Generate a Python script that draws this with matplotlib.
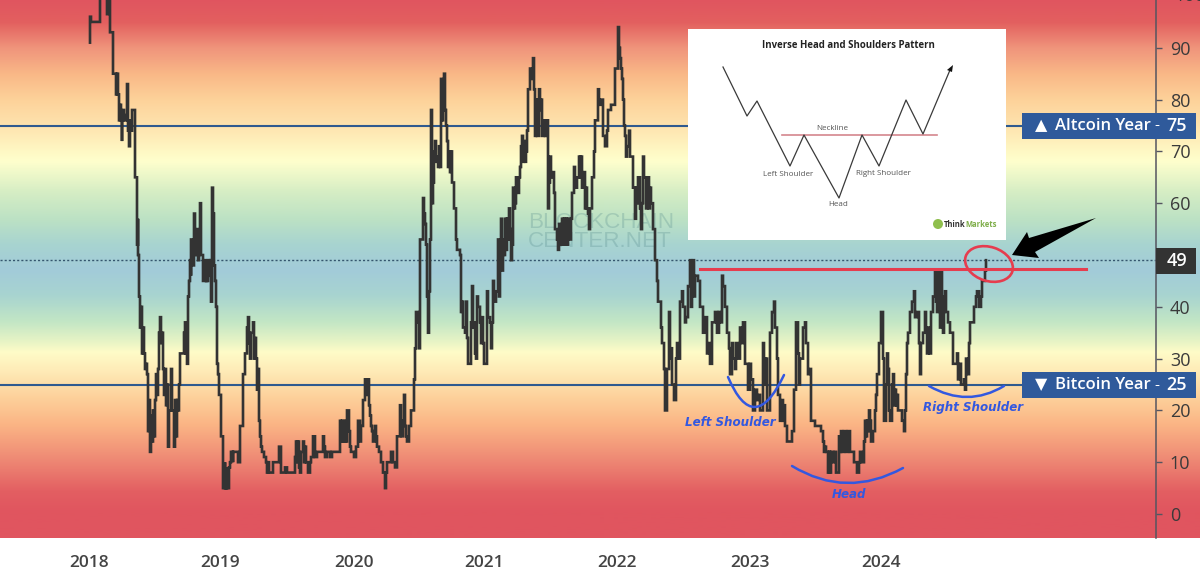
import numpy as np
import matplotlib
matplotlib.use("Agg")
import matplotlib.pyplot as plt
from matplotlib.colors import LinearSegmentedColormap
from matplotlib.patches import Ellipse, PathPatch, Polygon, Rectangle, Circle
from matplotlib.path import Path

plt.rcParams['font.family'] = ['Open Sans', 'DejaVu Sans']

# x is the bar number counted from January 2018, y the altcoin season index
trace_2018 = [(1,91),(1,96),(2,95),(11,95),(11,104),(17,104),(18,100),(18,96.5),(19,100),(20,100),(21,93),(22,93),(24,92),(24,85),
              (26,85),(27,81),(28,85),(29,81),(30,80),(30,76),(31,79),(32,76),(33,72),(33,76),(34,78),(35,77),(36,76),(37,76),
              (38,83),(39,74),(40,71),(41,76),(42,74),(43,78),(44,78),(46,65),(48,58),(48,52),(49,57),(49,50),(50,49),(50,42),
              (51,36),(52,40),(53,31),(54,36),(55,31),(56,28),(57,29),(58,27),(59,16),(60,22),(61,12),(62,19),(63,14),(64,20),
              (65,15),(66,22),(67,27),(68,23),(69,28),(70,35),(71,38),(72,33),(73,35),(74,28),(75,23),(76,28),(77,21),(78,25),
              (79,13),(80,20),(82,28),(83,20),(85,13),(86,22),(87,15),(88,22),(89,20),(90,25),(91,31),(93,31),(95,35),(96,37),
              (97,31),(98,29),(99,42),(100,45),(101,49),(102,46),(102,53),(103,48),(105,58),(106,50),(107,55),(109,49),(110,54),
              (111,60),(112,50),(114,49),(114,45),(116,49),(117,45),(118,49),(118,45),(119,49),(120,46),(121,49),(122,41),(123,63),
              (124,58),(125,48),(126,45),(127,40),(128,29)]
trace_2019 = [(129,27),(130,23),(132,15),(134,10),(134,5),(136,10),(136,5),(138,9),(138,5),(140,9),(141,10),(142,12),(144,10),
              (144,12),(148,12),(149,10),(151,17),(154,27),(156,31),(158,36),(159,38),(160,33),(161,30),(162,35),(164,37),(165,30),
              (166,34),(167,30),(168,24),(169,28),(170,18),(171,15),(172,13),(173,12),(175,11),(177,10),(178,8),(179,10),(180,8),
              (182,8),(184,10),(189,10),(190,13),(191,13),(192,8),(195,8),(196,9),(197,9),(198,8),(204,8),(206,11),(207,14),
              (208,10),(209,14),(210,9),(211,8),(212,12),(214,14),(215,10),(216,13),(217,10),(219,8),(220,8),(221,10),(222,11),
              (224,15),(226,11),(228,12),(233,12),(234,15),(235,13),(236,11),(238,12),(241,11),(243,12),(248,12),(250,12),(251,18),
              (252,14),(253,18),(254,14),(256,18),(257,14),(258,20),(260,16),(261,13),(262,12),(265,11),(267,13),(269,18),(271,14),
              (272,17),(274,22),(276,26),(278,23),(279,26),(280,21),(281,19),(282,17),(283,16),(284,14),(286,17),(287,15),(288,13),
              (290,12),(292,10),(294,8),(296,5),(297,8),(298,10),(300,10),(302,12),(304,10),(306,9),(308,15),(310,15),(311,21),
              (312,17),(313,15),(314,18),(315,23),(316,17),(317,15),(318,14),(320,17),(322,20),(325,26),(326,32),(327,39)]
trace_2021 = [(329,37),(330,32),(331,53),(334,61),(335,58),(336,56),(337,52),(338,42),(339,35),(340,43),(341,53),(342,78),(343,60),
              (344,64),(345,70),(346,72),(347,68),(348,69),(349,67),(350,71),(351,67),(352,84),(353,76),(354,78),(355,85),(356,78),
              (357,75),(358,72),(359,67),(360,70),(361,66),(362,70),(363,64),(365,59),(367,53),(368,51),(370,51),(371,50),(372,39),
              (373,41),(374,36),(376,35),(377,41),(378,34),(379,29),(381,29),(382,37),(383,44),(384,36),(385,37),(386,31),(387,30),
              (388,42),(389,40),(391,37),(392,33),(393,38),(394,33),(395,29),(396,29),(398,43),(399,38),(401,37),(402,32),(403,37),
              (404,45),(405,41),(407,43),(409,53),(410,42),(411,52),(412,57),(413,47),(414,53),(415,50),(416,57),(417,51),(418,57),
              (419,53),(420,59),(421,55),(422,49),(423,52),(424,63),(425,59),(426,60),(427,65),(428,62),(430,65),(431,67),(432,71),
              (433,73),(434,68),(435,72),(436,68),(437,70),(438,74),(439,82),(441,86),(442,84),(444,88),(445,82),(446,73),(447,80),
              (448,73),(450,82),(451,78),(452,80),(453,73),(455,76),(456,73),(457,76),(459,59),(460,64),(461,69),(462,65),(463,66),
              (465,62),(466,55),(468,53),(469,51),(470,56),(471,52),(473,57),(474,52),(475,57),(476,52),(477,57),(478,52),(479,57),
              (481,53),(482,57),(483,62),(485,67),(486,65),(487,63),(488,65),(490,69),(491,65),(492,69),(493,63),(494,66),(496,59),
              (497,63),(498,59),(499,58),(500,55),(501,59),(503,65),(505,70),(506,76),(509,82),(510,79),(512,80),(514,73),(516,71),
              (518,74),(519,78),(521,78),(522,79),(526,86),(529,94),(530,90),(531,88),(532,86),(533,84),(534,80),(535,75),(536,73),
              (537,69),(538,71),(540,74),(541,74),(541,69),(542,69),(544,63),(546,57),(547,63),(548,60),(549,65),(551,59),(552,55),
              (553,60),(554,69),(555,65),(557,59),(558,63),(559,65),(560,59),(561,63),(562,60),(564,55),(566,49),(568,45),(569,41)]
trace_2023 = [(572,36),(573,33),(575,28),(576,20),(578,28),(580,39),(581,30),(582,32),(583,25),(585,22),(587,30),(588,33),(589,30),
              (591,41),(593,43),(594,40),(596,37),(597,38),(599,44),(601,49),(602,40),(603,45),(604,49),(605,42),(606,46),(609,45),
              (611,40),(614,35),(616,38),(618,31),(620,33),(621,29),(623,37),(626,39),(628,35),(630,39),(631,37),(633,46),(634,44),
              (636,40),(638,35),(640,32),(641,27),(643,33),(644,30),(646,28),(647,33),(649,30),(651,36),(652,33),(654,37),(656,29),
              (659,24),(661,29),(662,26),(664,20),(666,24),(668,22),(669,23),(671,20),(674,33),(675,30),(676,25),(677,30),(678,20),
              (681,35),(683,39),(685,41),(686,36),(688,30),(689,23),(691,18),(692,22),(694,18),(695,21),(696,17),(698,14),(700,14),
              (703,16),(705,24),(707,37),(709,31),(710,25),(711,30),(713,30),(714,36),(716,37),(717,33),(719,27),(720,28),(722,18),
              (726,17),(729,17),(732,16),(734,14),(735,12),(736,13),(737,12),(739,8),(740,12),(741,8),(742,12),(744,10),(746,12),
              (747,8),(749,8),(750,15),(751,12),(752,16),(753,12),(755,16),(757,12),(759,16),(761,12),(763,12),(765,10),(768,8),
              (770,10),(771,12),(773,10),(775,14),(776,18),(777,15),(778,18),(779,16),(780,20),(781,18),(782,14),(784,16),(786,20)]
trace_2024 = [(787,23),(788,27),(790,33),(792,39),(794,30),(795,18),(797,25),(798,31),(799,28),(800,20),(801,18),(803,25),(804,27),
              (805,21),(806,24),(807,21),(808,23),(809,20),(811,20),(813,18),(815,16),(816,20),(817,27),(818,33),(819,35),(821,39),
              (823,41),(825,43),(826,38),(828,39),(830,33),(831,27),(832,33),(834,35),(836,39),(837,35),(838,31),(839,36),(841,31),
              (842,39),(844,42),(846,47),(847,41),(848,39),(849,47),(851,36),(852,47),(853,42),(854,35),(855,40),(856,43),(857,39),
              (859,37),(861,35),(864,29),(866,29),(868,31),(869,26),(871,29),(872,25),(875,26),(876,24),(877,30),(878,27),(880,33),
              (881,37),(884,37),(885,40),(887,42),(888,43),(890,40),(892,42),(893,45),(895,45),(896,47),(897,49)]

year_bars = [0, 131, 265, 395, 528, 661, 792]
year_labels = ['2018', '2019', '2020', '2021', '2022', '2023', '2024']
value_ticks = [0, 10, 20, 30, 40, 60, 70, 80, 90]
altcoin_level = 75
bitcoin_level = 25
current_level = 49
neckline_level = 47.3
neckline_bars = [611, 997]

# background gradient stops, value -> colour
grad_values = [-5, 0, 4, 10, 17, 22, 27, 31, 33, 37, 42, 47, 52, 57, 62, 68, 70, 75, 80, 85, 90, 95, 99.3]
grad_colors = ['#e0555f', '#e0555f', '#e35f62', '#ee8874', '#fbb585', '#fdd09a', '#fee9b5', '#fffcc8', '#e8f4c5',
               '#c2e6c5', '#a8d4d0', '#a2cbd9', '#a8d4d0', '#bde2c4', '#d5edc4', '#feffcd', '#fff8c4', '#fee3ae',
               '#fdd29a', '#f9b887', '#f0957c', '#e3605f', '#e0555f']

# inset pattern sketch, drawn in picture pixels
pattern_x = [723, 747, 757, 790, 804, 839, 862, 879, 906, 923, 950]
pattern_y = [67, 116, 101, 166, 135, 198, 135, 166, 100, 134, 70]

YMIN, YMAX = -4.63, 99.23
BLUE_TAG = '#2f5a9b'
DARK = '#333333'

fig = plt.figure(figsize=(12, 5.74), dpi=100)

bg = fig.add_axes([0, 36 / 574, 1, 538 / 574], zorder=0)
bg.axis('off')
pos = [(v - grad_values[0]) / (grad_values[-1] - grad_values[0]) for v in grad_values]
cmap = LinearSegmentedColormap.from_list('season', list(zip(pos, grad_colors)), N=512)
bg.imshow(np.linspace(1, 0, 512).reshape(-1, 1), aspect='auto', cmap=cmap, vmin=0, vmax=1)

ax = fig.add_axes([0, 36 / 574, 1156 / 1200, 538 / 574], zorder=1)
ax.patch.set_alpha(0)
ax.set_xlim(-89, 1067)
ax.set_ylim(YMIN, YMAX)
for name in ['top', 'left', 'bottom']:
    ax.spines[name].set_visible(False)
ax.spines['right'].set_color('#555560')
ax.spines['right'].set_linewidth(1.1)
ax.yaxis.tick_right()
ax.set_yticks(value_ticks)
ax.tick_params(axis='y', length=4, width=1, color='#555560', labelcolor='#3a3a3a', labelsize=13, pad=6)
ax.set_xticks(year_bars)
ax.set_xticklabels(year_labels, fontweight=600)
ax.tick_params(axis='x', length=0, labelcolor='#444444', labelsize=12.5, pad=12)
ax.text(1.016, 100, '100', transform=ax.get_yaxis_transform(), color='#3a3a3a', fontsize=13, va='center', clip_on=False)

ax.axhline(altcoin_level, color='#2f5a8f', lw=1.5, zorder=2)
ax.axhline(bitcoin_level, color='#2f5a8f', lw=1.5, zorder=2)
ax.axhline(current_level, color='#35566e', lw=1, ls=(0, (1.5, 1.5)), zorder=2)

trace = np.array(trace_2018 + trace_2019 + trace_2021 + trace_2023 + trace_2024)
ax.plot(trace[:, 0], trace[:, 1], color=DARK, lw=1.9, drawstyle='steps-post', solid_joinstyle='miter', zorder=4)
ax.plot(neckline_bars, [neckline_level] * 2, color='#e63c4e', lw=2.2, zorder=5)

# everything below here sits on top, in picture pixels
over = fig.add_axes([0, 0, 1, 1], zorder=2)
over.axis('off')
over.patch.set_alpha(0)
over.set_xlim(0, 1200)
over.set_ylim(574, 0)

# watermark goes under the trace
bg.text(528, 222, 'BLOCKCHAIN', transform=over.transData, color='#4f8488', alpha=0.26, fontsize=16.2, va='center', family='Liberation Sans')
bg.text(528, 241.5, 'CENTER.NET', transform=over.transData, color='#4f8488', alpha=0.26, fontsize=16.2, va='center', family='Liberation Sans')

over.add_patch(Rectangle((688, 29), 318, 211, color='white', lw=0, zorder=2))
over.text(848, 45, 'Inverse Head and Shoulders Pattern', fontsize=6.95, fontweight='bold', color='#222222', ha='center', va='center', zorder=3)
over.plot([782, 937], [135, 135], color='#d4868e', lw=1.2, zorder=3)
over.plot(pattern_x, pattern_y, color='#3a3a3a', lw=0.9, zorder=4)
over.add_patch(Polygon([(953, 65), (947, 70), (952, 72)], color='#111111', lw=0, zorder=4))
for lab, lx, ly in [('Neckline', 832, 128), ('Left Shoulder', 788, 175), ('Right Shoulder', 883, 173.5), ('Head', 838, 205)]:
    over.text(lx, ly, lab, fontsize=5.8, color='#555555', ha='center', va='center', zorder=4)
over.add_patch(Circle((938, 224), 5, color='#8fbf4d', lw=0, zorder=4))
over.text(943.5, 224.5, 'Think', fontsize=5.5, fontweight='bold', color='#333333', va='center', zorder=4)
over.text(965.5, 224.5, 'Markets', fontsize=5.5, fontweight='bold', color='#7fae4a', va='center', zorder=4)

# hand drawn annotations
over.add_patch(Ellipse((989, 264), 49, 34, angle=18, fill=False, ec='#e63c4e', lw=1.9, zorder=6))
over.add_patch(Polygon([(1012, 255), (1027, 232), (1029, 238), (1096, 218), (1035, 252), (1039, 258)], color='black', lw=0, zorder=6))


def arc(p0, mid, p2):
    ctrl = (2 * mid[0] - (p0[0] + p2[0]) / 2, 2 * mid[1] - (p0[1] + p2[1]) / 2)
    path = Path([p0, ctrl, p2], [Path.MOVETO, Path.CURVE3, Path.CURVE3])
    over.add_patch(PathPatch(path, fill=False, ec='#3358e0', lw=1.8, capstyle='round', zorder=6))


arc((728, 377), (755, 407), (784, 375))
arc((792, 466), (847, 483), (903, 468))
arc((929, 386), (967, 397), (1004, 386))
shoulder_font = dict(family='DejaVu Sans', style='italic', fontweight='bold', color='#3358e0', ha='center', va='center', fontsize=8.6, zorder=6)
over.text(730, 423, 'Left Shoulder', **shoulder_font)
over.text(973, 408, 'Right Shoulder', **shoulder_font)
over.text(849, 494, 'Head', **shoulder_font)

# level tags on the price scale
for yc, arrow, name, level in [(126, '\u25b2', 'Altcoin Year', altcoin_level), (385, '\u25bc', 'Bitcoin Year', bitcoin_level)]:
    over.add_patch(Rectangle((1022, yc - 13), 174, 26, color=BLUE_TAG, lw=0, zorder=7))
    over.text(1041, yc, arrow, color='white', fontsize=11.5, ha='center', va='center', family='DejaVu Sans', zorder=8)
    over.text(1055, yc, name, color='white', fontsize=12, fontweight=600, va='center', zorder=8)
    over.text(1157, yc, '-', color='white', fontsize=11, ha='center', va='center', zorder=8)
    over.text(1176.5, yc, str(level), color='white', fontsize=13, fontweight=600, ha='center', va='center', zorder=8)
over.add_patch(Rectangle((1156, 248), 40, 26, color=DARK, lw=0, zorder=7))
over.text(1176.5, 261, str(current_level), color='white', fontsize=13, fontweight=600, ha='center', va='center', zorder=8)

fig.savefig('out.png', dpi=100)
